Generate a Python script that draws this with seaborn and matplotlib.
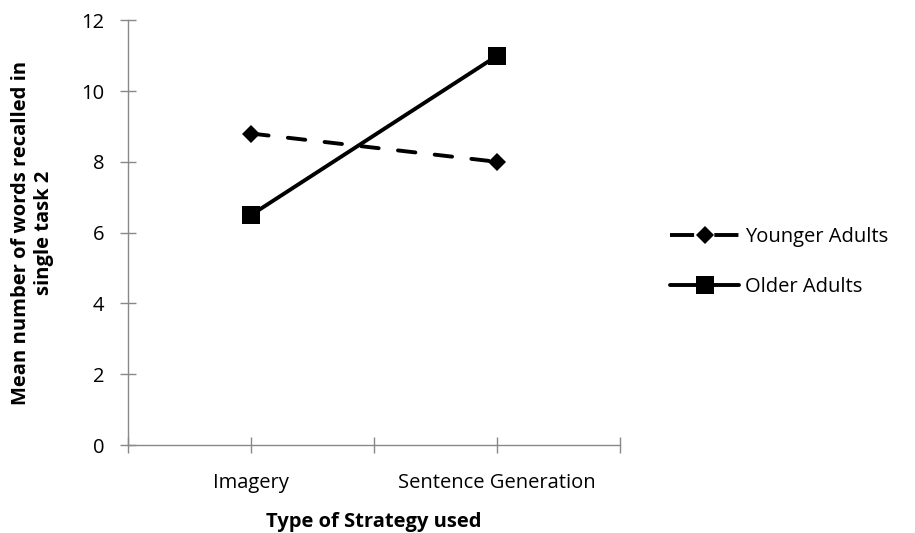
import pandas as pd
import seaborn as sns
import matplotlib.pyplot as plt

# chart data
strategies = ['Imagery', 'Sentence Generation']
younger = [8.8, 8.0]
older = [6.5, 11.0]
groups = ['Younger Adults', 'Older Adults']

df = pd.DataFrame({
    'pos': [0, 1, 0, 1],
    'words': younger + older,
    'group': [groups[0]] * 2 + [groups[1]] * 2,
})

sns.set_style('white')
plt.rcParams['font.family'] = ['Open Sans', 'DejaVu Sans']
plt.rcParams['text.color'] = 'black'

fig = plt.figure(figsize=(9.15, 5.33), dpi=100)
ax = fig.add_axes([0.14, 0.165, 0.538, 0.797])

sns.lineplot(data=df, x='pos', y='words', style='group', hue='group',
             palette={groups[0]: 'black', groups[1]: 'black'},
             markers={groups[0]: 'D', groups[1]: 's'},
             dashes={groups[0]: (4.5, 5), groups[1]: ''},
             linewidth=2.8, markeredgewidth=0, ax=ax)


def style_line(line):
    line.set_dash_capstyle('round')
    if line.get_marker() == 's':
        line.set_markersize(13)
    elif line.get_marker() == 'D':
        line.set_markersize(9)


for line in ax.lines:
    style_line(line)

ax.set_xlim(-0.5, 1.5)
ax.set_ylim(0, 12)
ax.set_yticks(range(0, 13, 2))
ax.set_xticks([-0.5, 0, 0.5, 1, 1.5])
ax.set_xticklabels(['', strategies[0], '', strategies[1], ''])
ax.tick_params(axis='both', bottom=True, left=True, direction='inout', length=12,
               width=1, color='#888888', labelcolor='black', labelsize=14.5, pad=11)
ax.tick_params(axis='x', pad=14)

for s in ['top', 'right']:
    ax.spines[s].set_visible(False)
for s in ['left', 'bottom']:
    ax.spines[s].set_color('#888888')
    ax.spines[s].set_linewidth(1)

ax.set_xlabel('Type of Strategy used', fontsize=14.5, fontweight='bold',
              labelpad=14, color='black')
ax.set_ylabel('Mean number of words recalled in\nsingle task 2', fontsize=14.5,
              fontweight='bold', labelpad=20, color='black')

handles, labels = ax.get_legend_handles_labels()
for h in handles:
    style_line(h)
    if h.get_marker() == 'D':
        # dash on each side of the diamond, like the original legend
        h.set_dashes((6.2, 5.2))
        h.set_dash_capstyle('butt')
ax.legend(handles, labels, loc='center left', bbox_to_anchor=(1.065, 0.43),
          frameon=False, fontsize=14.5, handlelength=3.4, handletextpad=0.3,
          labelspacing=1.5)

fig.savefig('out.png', dpi=100)
